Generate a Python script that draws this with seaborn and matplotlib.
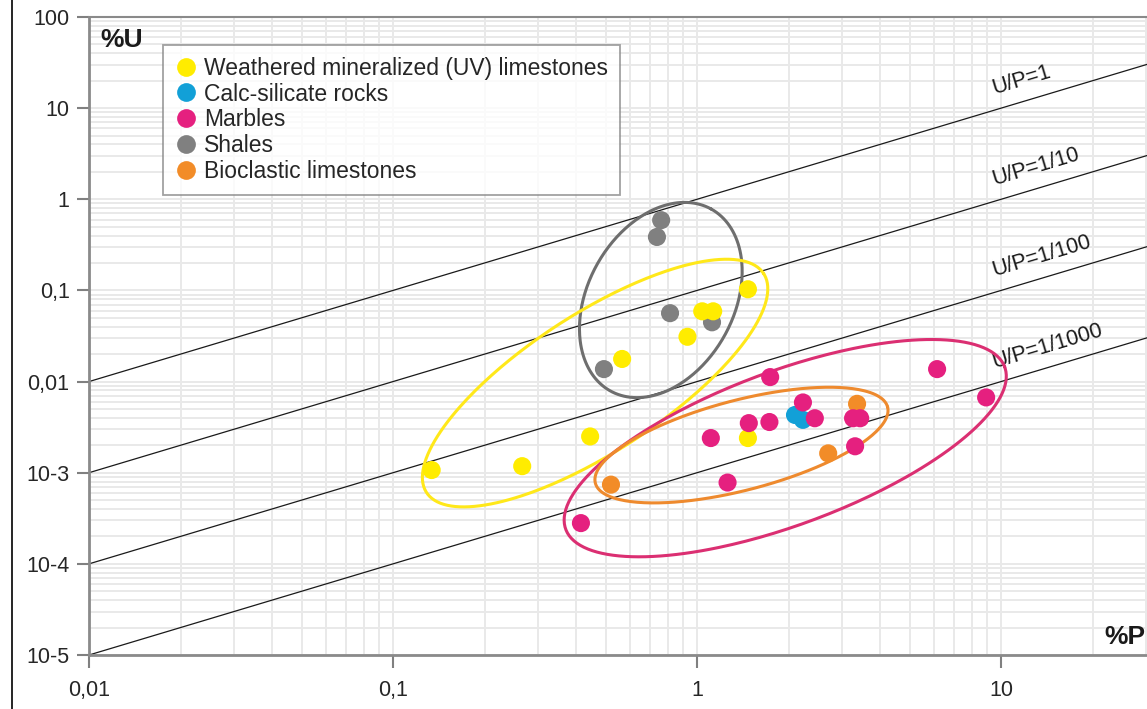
import numpy as np
import pandas as pd
import matplotlib.pyplot as plt
import seaborn as sns
from matplotlib.lines import Line2D
from matplotlib.ticker import FixedLocator, LogLocator, NullFormatter

# %P / %U values
weathered_p = [0.134, 0.266, 0.445, 0.567, 0.93, 1.04, 1.13, 1.47, 1.47]
weathered_u = [1.07e-3, 1.18e-3, 2.5e-3, 0.0177, 0.031, 0.059, 0.059, 0.103, 2.4e-3]
calc_p = [2.10, 2.23]
calc_u = [4.3e-3, 3.8e-3]
marble_p = [1.74, 6.16, 8.93, 2.23, 2.44, 3.26, 3.44, 1.48, 1.73, 1.11, 3.31, 1.26, 0.415]
marble_u = [0.0112, 0.0137, 6.7e-3, 5.9e-3, 3.96e-3, 3.96e-3, 3.96e-3, 3.5e-3, 3.6e-3,
            2.4e-3, 1.95e-3, 7.8e-4, 2.8e-4]
shale_p = [0.762, 0.738, 0.815, 1.12, 0.494]
shale_u = [0.59, 0.386, 0.0563, 0.0447, 0.0137]
bio_p = [3.36, 2.70, 0.521]
bio_u = [5.7e-3, 1.63e-3, 7.4e-4]

groups = ["Weathered mineralized (UV) limestones", "Calc-silicate rocks", "Marbles",
          "Shales", "Bioclastic limestones"]
colors = ["#FFEC00", "#12A0D7", "#E5207F", "#808080", "#F28C28"]
ratios = [1, 0.1, 0.01, 0.001]
ratio_labels = ["U/P=1", "U/P=1/10", "U/P=1/100", "U/P=1/1000"]

x_ticks = [0.01, 0.1, 1, 10]
x_ticklabels = ["0,01", "0,1", "1", "10"]
y_ticks = [1e-5, 1e-4, 1e-3, 0.01, 0.1, 1, 10, 100]
y_ticklabels = ["10-5", "10-4", "10-3", "0,01", "0,1", "1", "10", "100"]

# group envelopes: centre (P, U), semi-axes in pixels, tilt in degrees
ellipse_centres = [(0.76, 0.0785), (0.462, 0.00963), (1.95, 1.86e-3), (1.40, 2.01e-3)]
ellipse_axes = [(104, 73), (201, 69), (234, 77), (151, 45)]
ellipse_tilt = [61, 33, 20.3, 14.6]
ellipse_colors = ["#6E6E6E", "#FFE81A", "#DB2F72", "#EE8A2E"]

# draw order: shales below, marbles on top
order = ["Shales", "Weathered mineralized (UV) limestones", "Calc-silicate rocks",
         "Bioclastic limestones", "Marbles"]
data = {
    "Weathered mineralized (UV) limestones": (weathered_p, weathered_u),
    "Calc-silicate rocks": (calc_p, calc_u),
    "Marbles": (marble_p, marble_u),
    "Shales": (shale_p, shale_u),
    "Bioclastic limestones": (bio_p, bio_u),
}
df = pd.concat([pd.DataFrame({"P": data[g][0], "U": data[g][1], "group": g}) for g in order],
               ignore_index=True)
palette = dict(zip(groups, colors))

sns.set_style("white")
plt.rcParams["font.family"] = ["Liberation Sans", "DejaVu Sans"]

W, H = 1147, 709
fig = plt.figure(figsize=(W / 100, H / 100), dpi=100)
ax = fig.add_axes([89 / W, 54 / H, 1 - 89 / W, 638 / H])
ax.set_xscale("log")
ax.set_yscale("log")
xmax = 10 ** 1.48
ax.set_xlim(0.01, xmax)
ax.set_ylim(1e-5, 100)

# light log grid
ax.xaxis.set_minor_locator(LogLocator(base=10, subs=np.arange(2, 10)))
ax.yaxis.set_minor_locator(LogLocator(base=10, subs=np.arange(2, 10)))
ax.xaxis.set_minor_formatter(NullFormatter())
ax.yaxis.set_minor_formatter(NullFormatter())
ax.grid(which="both", color="#E9E9E9", lw=1.4, zorder=0)
ax.set_axisbelow(True)

# ratio lines
xs = np.array([0.01, xmax])
for r, lab in zip(ratios, ratio_labels):
    ax.plot(xs, r * xs, color="#1A1A1A", lw=0.9, zorder=2)
    ax.text(9.5, 1.5 * r * 9.5, lab, fontsize=15.5, rotation=16.7, rotation_mode="anchor",
            ha="left", va="baseline", color="#1A1A1A", zorder=3)

# ellipses, built in pixel space then mapped back to log axes
kx = (W - 89) / np.log10(xmax / 0.01)
ky = 638 / 7
t = np.linspace(0, 2 * np.pi, 300)
for (cx, cy), (a, b), ang, col in zip(ellipse_centres, ellipse_axes, ellipse_tilt, ellipse_colors):
    th = np.deg2rad(ang)
    du = a * np.cos(t) * np.cos(th) - b * np.sin(t) * np.sin(th)
    dv = a * np.cos(t) * np.sin(th) + b * np.sin(t) * np.cos(th)
    ax.plot(cx * 10 ** (du / kx), cy * 10 ** (dv / ky), color=col, lw=2.2, zorder=4)

sns.scatterplot(data=df, x="P", y="U", hue="group", palette=palette, s=170,
                linewidth=0, legend=False, ax=ax, zorder=5)

ax.xaxis.set_major_locator(FixedLocator(x_ticks))
ax.set_xticklabels(x_ticklabels)
ax.yaxis.set_major_locator(FixedLocator(y_ticks))
ax.set_yticklabels(y_ticklabels)
ax.tick_params(axis="x", which="major", length=9, width=1.5, color="#808080", pad=9,
               labelsize=15.5, direction="out")
ax.tick_params(axis="y", which="major", length=9, width=1.5, color="#808080", pad=5,
               labelsize=15.5, direction="out")
ax.tick_params(which="minor", length=0)
ax.tick_params(bottom=True, left=True)
ax.set_xlabel("")
ax.set_ylabel("")

for side in ["left", "bottom", "top"]:
    ax.spines[side].set_color("#8A8A8A")
    ax.spines[side].set_linewidth(2)
ax.spines["top"].set_linewidth(1.5)
ax.spines["right"].set_visible(False)

ax.text(0.0104, 0.982, "%U", transform=ax.transAxes, fontsize=19, fontweight="bold",
        ha="left", va="top", color="#1A1A1A")
ax.text(0.999, 0.028, "%P", transform=ax.transAxes, fontsize=19, fontweight="bold",
        ha="right", va="center", color="#1A1A1A")

handles = [Line2D([], [], marker="o", ls="", markersize=13.5, markerfacecolor=palette[g],
                  markeredgewidth=0) for g in groups]
leg = ax.legend(handles, groups, loc="upper left", bbox_to_anchor=(0.07, 0.956),
                borderaxespad=0, frameon=True, fancybox=False, fontsize=16.5,
                handletextpad=0.3, labelspacing=0.13, borderpad=0.5, handlelength=1.0)
leg.get_frame().set_edgecolor("#8A8A8A")
leg.get_frame().set_linewidth(1.3)
leg.set_zorder(6)

# thin frame line on the far left of the picture
fig.add_artist(Line2D([12 / W, 12 / W], [0, 1], color="black", lw=1.2))

fig.savefig("out.png", dpi=100)
